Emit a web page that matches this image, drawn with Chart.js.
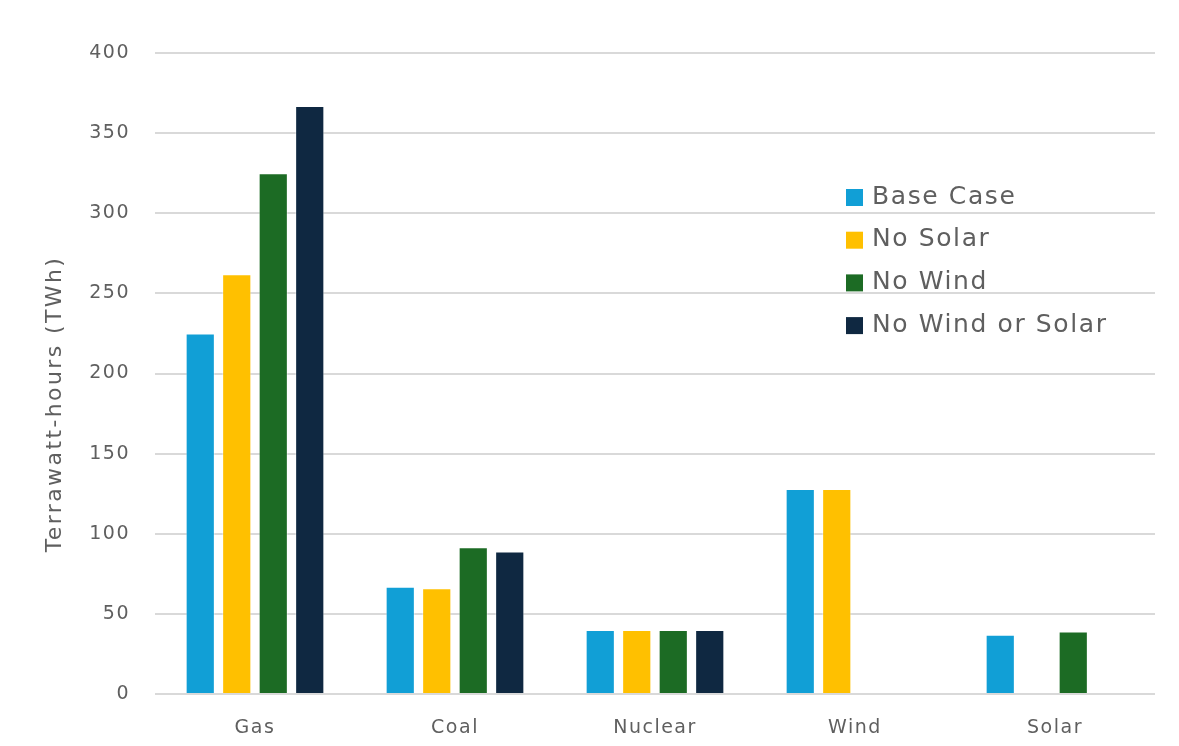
<!DOCTYPE html>
<html>
<head>
<meta charset="utf-8">
<script src="https://cdn.jsdelivr.net/npm/chart.js@4.4.1/dist/chart.umd.min.js"></script>
<style>
  html, body { margin: 0; padding: 0; background: #ffffff; }
  #wrap { width: 1179px; height: 746px; }
</style>
</head>
<body>
<div id="wrap"><canvas id="c" width="1179" height="746"></canvas></div>
<script>
// Electricity generation by source under each scenario (TWh)
const categories = ['Gas', 'Coal', 'Nuclear', 'Wind', 'Solar'];
const seriesNames = ['Base Case', 'No Solar', 'No Wind', 'No Wind or Solar'];
const baseCase      = [225, 67, 40, 128, 37];
const noSolar       = [262, 66, 40, 128, null];
const noWind        = [325, 91.5, 40, null, 39];
const noWindOrSolar = [367, 89, 40, null, null];
const yTicks = [0, 50, 100, 150, 200, 250, 300, 350, 400];
const yAxisTitle = 'Terrawatt-hours (TWh)';

const colors = ['#119fd6', '#ffc000', '#1c6b24', '#0f2841'];
const textColor = '#5f5f5f';
const fontFamily = "'DejaVu Sans', 'Open Sans', sans-serif";

const seriesValues = [baseCase, noSolar, noWind, noWindOrSolar];

// Wide, airy lettering for every label on the canvas
const letterSpacingPlugin = {
  id: 'letterSpacing',
  beforeUpdate(chart) { chart.ctx.letterSpacing = '1.5px'; },
  beforeDraw(chart) { chart.ctx.letterSpacing = '1.5px'; }
};

// Rotated y-axis title, sitting a little below the middle of the axis
const yTitlePlugin = {
  id: 'yTitle',
  afterDraw(chart) {
    const ctx = chart.ctx;
    ctx.save();
    ctx.font = '22px ' + fontFamily;
    ctx.letterSpacing = '2.4px';
    ctx.fillStyle = textColor;
    ctx.textAlign = 'center';
    ctx.textBaseline = 'middle';
    ctx.translate(55, 404);
    ctx.rotate(-Math.PI / 2);
    ctx.fillText(yAxisTitle, 0, 0);
    ctx.restore();
  }
};

// Legend drawn inside the plot area, on the right
const insideLegend = {
  id: 'insideLegend',
  afterDraw(chart) {
    const ctx = chart.ctx;
    ctx.save();
    ctx.font = '25px ' + fontFamily;
    ctx.letterSpacing = '1.6px';
    ctx.textBaseline = 'middle';
    chart.data.datasets.forEach((ds, i) => {
      const y = 197 + i * 42.7;
      ctx.fillStyle = ds.backgroundColor;
      ctx.fillRect(846, y - 8, 17, 17);
      ctx.fillStyle = textColor;
      ctx.fillText(ds.label, 872, y);
    });
    ctx.restore();
  }
};

new Chart(document.getElementById('c'), {
  type: 'bar',
  data: {
    labels: categories,
    datasets: seriesNames.map((name, i) => ({
      label: name,
      data: seriesValues[i],
      backgroundColor: colors[i],
      borderColor: 'rgba(255,255,255,0.45)',
      borderWidth: 1,
      barPercentage: 0.8,
      categoryPercentage: 0.73
    }))
  },
  options: {
    responsive: false,
    animation: false,
    layout: { padding: { top: 53, right: 24, left: 0, bottom: 0 } },
    plugins: {
      legend: { display: false },
      tooltip: { enabled: false }
    },
    scales: {
      x: {
        grid: { display: false, drawTicks: false },
        border: { display: false },
        ticks: { color: textColor, font: { family: fontFamily, size: 19 }, padding: 23 },
        afterFit(scale) { scale.height = 52; }
      },
      y: {
        min: 0,
        max: 400,
        afterBuildTicks(scale) { scale.ticks = yTicks.map(v => ({ value: v })); },
        grid: { color: '#d9d9d9', lineWidth: 2, drawTicks: false },
        border: { display: false },
        ticks: { color: textColor, font: { family: fontFamily, size: 19 }, padding: 25 },
        afterFit(scale) { scale.width = 155; }
      }
    }
  },
  plugins: [letterSpacingPlugin, yTitlePlugin, insideLegend]
});
</script>
</body>
</html>
